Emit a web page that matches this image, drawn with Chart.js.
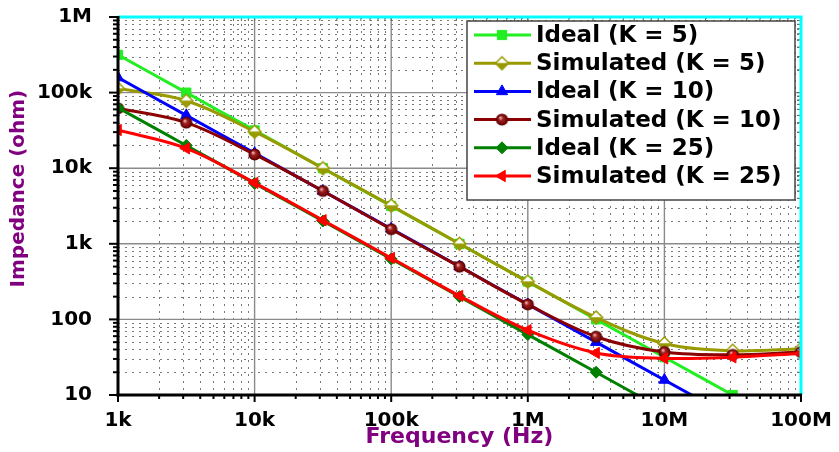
<!DOCTYPE html>
<html><head><meta charset="utf-8">
<script src="https://cdn.jsdelivr.net/npm/chart.js@4/dist/chart.umd.min.js"></script>
<style>html,body{margin:0;padding:0;background:#fff;}canvas{display:block;}</style>
</head><body>
<canvas id="c" width="839" height="452"></canvas>
<script>
// ---- data ----
const frequencies = [1e3, 3.162e3, 1e4, 3.162e4, 1e5, 3.162e5, 1e6, 3.162e6, 1e7, 3.162e7, 1e8];
const idealK5  = [316000, 100000, 31600, 10000, 3160, 1000, 316, 100, 31.6, 10];
const simK5    = [113000, 78000, 30400, 10000, 3200, 1000, 316, 106, 48, 38.5, 41];
const idealK10 = [158000, 50000, 15800, 5000, 1580, 500, 158, 50, 15.8, 5];
const simK10   = [62000, 40000, 15200, 5000, 1560, 498, 158, 59, 37, 34, 37];
const idealK25 = [63000, 20000, 6300, 2000, 630, 200, 63, 20, 6.3];
const simK25   = [32000, 18300, 6400, 2050, 650, 205, 72, 36, 30.5, 31.5, 35.5];
const seriesNames = ['Ideal (K = 5)', 'Simulated (K = 5)', 'Ideal (K = 10)', 'Simulated (K = 10)', 'Ideal (K = 25)', 'Simulated (K = 25)'];
const xTickValues = [1e3, 1e4, 1e5, 1e6, 1e7, 1e8];
const xTickLabels = ['1k', '10k', '100k', '1M', '10M', '100M'];
const yTickValues = [10, 100, 1e3, 1e4, 1e5, 1e6];
const yTickLabels = ['10', '100', '1k', '10k', '100k', '1M'];
const xTitle = 'Frequency (Hz)';
const yTitle = 'Impedance (ohm)';

const pts = vals => vals.map((v, i) => ({x: frequencies[i], y: v}));

// custom marker images
function halfDiamond(r, color) {
  const c = document.createElement('canvas'); const s = 2 * r + 4; c.width = s; c.height = s;
  const g = c.getContext('2d'); const m = s / 2;
  g.beginPath(); g.moveTo(m - r, m); g.lineTo(m, m - r); g.lineTo(m + r, m); g.closePath(); g.fillStyle = '#fff'; g.fill();
  g.beginPath(); g.moveTo(m - r, m); g.lineTo(m, m + r); g.lineTo(m + r, m); g.closePath(); g.fillStyle = color; g.fill();
  g.beginPath(); g.moveTo(m - r, m); g.lineTo(m, m - r); g.lineTo(m + r, m); g.lineTo(m, m + r); g.closePath();
  g.strokeStyle = color; g.lineWidth = 1.5; g.stroke();
  return c;
}
function sphere(r, color) {
  const c = document.createElement('canvas'); const s = 2 * r + 4; c.width = s; c.height = s;
  const g = c.getContext('2d'); const m = s / 2;
  const gr = g.createRadialGradient(m - r * 0.3, m - r * 0.35, r * 0.1, m, m, r);
  gr.addColorStop(0, '#e8b0b0'); gr.addColorStop(0.35, '#a02020'); gr.addColorStop(1, color);
  g.beginPath(); g.arc(m, m, r, 0, Math.PI * 2); g.fillStyle = gr; g.fill();
  g.strokeStyle = '#5a0000'; g.lineWidth = 1.2; g.stroke();
  return c;
}

const cLime = '#22ee22', cOlive = '#999900', cBlue = '#0000ff', cDred = '#8b0000', cGreen = '#008000', cRed = '#ff0000';

const datasets = [
  {label: seriesNames[0], data: pts(idealK5), borderColor: cLime, backgroundColor: cLime, pointStyle: 'rect', pointRadius: 6.5, pointBackgroundColor: cLime, pointBorderColor: cLime, order: 6},
  {label: seriesNames[1], data: pts(simK5), borderColor: cOlive, backgroundColor: cOlive, pointStyle: halfDiamond(6.5, cOlive), pointRadius: 6.5, pointBackgroundColor: cOlive, pointBorderColor: cOlive, order: 5},
  {label: seriesNames[2], data: pts(idealK10), borderColor: cBlue, backgroundColor: cBlue, pointStyle: 'triangle', pointRadius: 6.5, pointBackgroundColor: cBlue, pointBorderColor: cBlue, order: 4},
  {label: seriesNames[3], data: pts(simK10), borderColor: cDred, backgroundColor: cDred, pointStyle: sphere(5.5, '#6a0000'), pointRadius: 5.5, pointBackgroundColor: cDred, pointBorderColor: cDred, order: 3},
  {label: seriesNames[4], data: pts(idealK25), borderColor: cGreen, backgroundColor: cGreen, pointStyle: 'rectRot', pointRadius: 6, pointBackgroundColor: cGreen, pointBorderColor: cGreen, order: 2},
  {label: seriesNames[5], data: pts(simK25), borderColor: cRed, backgroundColor: cRed, pointStyle: 'triangle', pointRotation: -90, pointRadius: 6.5, pointBackgroundColor: cRed, pointBorderColor: cRed, order: 1}
];
datasets.forEach(d => { d.borderWidth = 3; d.tension = 0.35; d.pointBorderWidth = 1; d.fill = false; });

function drawLine(ctx, x1, y1, x2, y2) { ctx.beginPath(); ctx.moveTo(x1, y1); ctx.lineTo(x2, y2); ctx.stroke(); }

const gridPlugin = {
  id: 'customGrid',
  beforeDatasetsDraw(chart) {
    const {ctx, chartArea: a, scales: {x, y}} = chart;
    ctx.save();
    ctx.strokeStyle = '#777'; ctx.lineWidth = 1; ctx.setLineDash([2, 5]);
    for (let d = 3; d < 8; d++) for (let m = 2; m <= 9; m++) {
      const px = Math.round(x.getPixelForValue(m * Math.pow(10, d))) + 0.5;
      drawLine(ctx, px, a.top, px, a.bottom);
    }
    for (let d = 1; d < 6; d++) for (let m = 2; m <= 9; m++) {
      const py = Math.round(y.getPixelForValue(m * Math.pow(10, d))) + 0.5;
      drawLine(ctx, a.left, py, a.right, py);
    }
    ctx.setLineDash([]); ctx.strokeStyle = '#8a8a8a'; ctx.lineWidth = 1.4;
    xTickValues.forEach(v => { const px = x.getPixelForValue(v); drawLine(ctx, px, a.top, px, a.bottom); });
    yTickValues.forEach(v => { const py = y.getPixelForValue(v); drawLine(ctx, a.left, py, a.right, py); });
    ctx.restore();
  },
  afterDatasetsDraw(chart) {
    const {ctx, chartArea: a, scales: {x, y}} = chart;
    ctx.save();
    // small inner ticks on top/right
    ctx.strokeStyle = '#666'; ctx.lineWidth = 1;
    for (let d = 3; d < 8; d++) for (let m = 1; m <= 9; m++) {
      const px = x.getPixelForValue(m * Math.pow(10, d)); drawLine(ctx, px, a.top, px, a.top + 4);
    }
    for (let d = 1; d < 6; d++) for (let m = 1; m <= 9; m++) {
      const py = y.getPixelForValue(m * Math.pow(10, d)); drawLine(ctx, a.right - 4, py, a.right, py);
    }
    // cyan top/right frame
    ctx.strokeStyle = '#00ffff'; ctx.lineWidth = 3;
    drawLine(ctx, a.left, a.top, a.right + 1.5, a.top);
    drawLine(ctx, a.right, a.top, a.right, a.bottom);
    // black axes
    ctx.strokeStyle = '#000'; ctx.lineWidth = 3;
    drawLine(ctx, a.left, a.top - 1, a.left, a.bottom + 1.5);
    drawLine(ctx, a.left - 1.5, a.bottom, a.right + 1, a.bottom);
    ctx.lineWidth = 2;
    for (let d = 3; d < 8; d++) for (let m = 1; m <= 9; m++) {
      const px = x.getPixelForValue(m * Math.pow(10, d)); drawLine(ctx, px, a.bottom, px, a.bottom + (m === 1 ? 7 : 4));
    }
    drawLine(ctx, x.getPixelForValue(1e8), a.bottom, x.getPixelForValue(1e8), a.bottom + 7);
    for (let d = 1; d < 6; d++) for (let m = 1; m <= 9; m++) {
      const py = y.getPixelForValue(m * Math.pow(10, d)); drawLine(ctx, a.left, py, a.left - (m === 1 ? 9 : 5), py);
    }
    drawLine(ctx, a.left, y.getPixelForValue(1e6), a.left - 9, y.getPixelForValue(1e6));
    ctx.restore();
  },
  afterDraw(chart) {
    const ctx = chart.ctx;
    ctx.save();
    const bx = 467, by = 21, bw = 328, bh = 179;
    ctx.fillStyle = '#fff'; ctx.fillRect(bx, by, bw, bh);
    ctx.strokeStyle = '#444'; ctx.lineWidth = 1.5; ctx.strokeRect(bx, by, bw, bh);
    chart.data.datasets.forEach((ds, i) => {
      const yy = 35 + i * 28.2;
      ctx.strokeStyle = ds.borderColor; ctx.lineWidth = 3; ctx.setLineDash([]);
      drawLine(ctx, 474, yy, 531, yy);
      ctx.fillStyle = ds.pointBackgroundColor; ctx.strokeStyle = ds.pointBorderColor; ctx.lineWidth = 1;
      Chart.helpers.drawPoint(ctx, {pointStyle: ds.pointStyle, rotation: ds.pointRotation || 0, radius: ds.pointRadius, borderWidth: 1}, 502, yy);
      ctx.fillStyle = '#000'; ctx.font = 'bold 23px "DejaVu Sans"'; ctx.textBaseline = 'middle'; ctx.textAlign = 'left';
      ctx.fillText(ds.label, 536, yy + 1);
    });
    ctx.restore();
  }
};

const tickFont = {family: '"DejaVu Sans"', size: 20, weight: 'bold'};

new Chart(document.getElementById('c'), {
  type: 'line',
  data: {datasets},
  options: {
    responsive: false, animation: false, events: [], devicePixelRatio: 1,
    layout: {padding: {left: 0, right: 38, top: 17, bottom: 0}},
    plugins: {legend: {display: false}, tooltip: {enabled: false}},
    scales: {
      x: {
        type: 'logarithmic', min: 1e3, max: 1e8,
        grid: {display: false}, border: {display: false},
        afterBuildTicks: s => { s.ticks = xTickValues.map(v => ({value: v, major: true})); },
        afterFit: s => { s.height = 57; s.paddingLeft = 0; s.paddingRight = 0; s.paddingTop = 0; s.paddingBottom = 0; },
        ticks: {autoSkip: false, maxRotation: 0, padding: 6, color: '#000', font: tickFont, callback: (v, i) => xTickLabels[i]},
        title: {display: true, text: xTitle, color: '#800080', font: {family: '"DejaVu Sans"', size: 22, weight: 'bold'}, padding: {top: 0, bottom: 2}}
      },
      y: {
        type: 'logarithmic', min: 10, max: 1e6,
        grid: {display: false}, border: {display: false},
        afterBuildTicks: s => { s.ticks = yTickValues.map(v => ({value: v, major: true})); },
        afterFit: s => { s.width = 118; s.paddingLeft = 0; s.paddingRight = 0; s.paddingTop = 0; s.paddingBottom = 0; },
        ticks: {autoSkip: false, padding: 18, color: '#000', font: tickFont, callback: (v, i) => yTickLabels[i]},
        title: {display: true, text: '     ' + yTitle, color: '#800080', font: {family: '"DejaVu Sans"', size: 20, weight: 'bold'}, padding: {top: 7, bottom: 0}}
      }
    }
  },
  plugins: [gridPlugin]
});
</script>
</body></html>
